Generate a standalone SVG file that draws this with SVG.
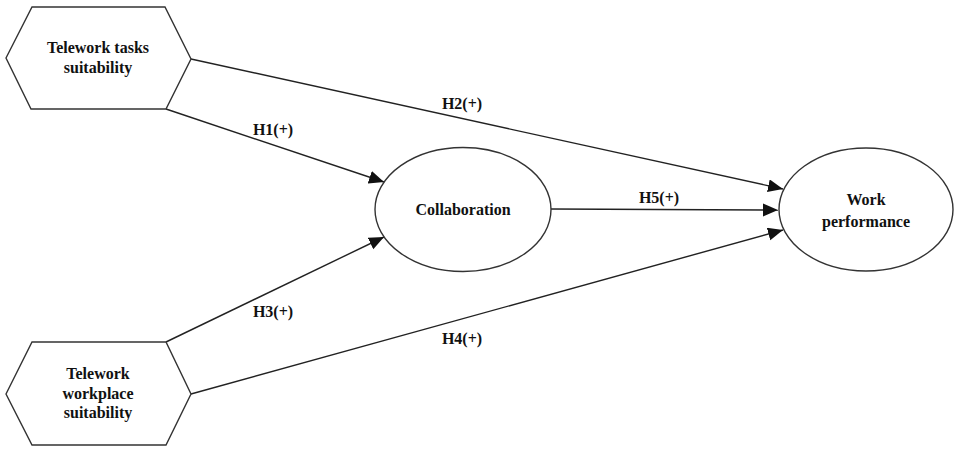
<svg xmlns="http://www.w3.org/2000/svg" width="957" height="454" viewBox="0 0 957 454">
<style>
.shape{fill:#fff;stroke:#333;stroke-width:1.4}
.lbl{font-family:'Liberation Serif','DejaVu Serif',serif;font-weight:bold;font-size:16px;fill:#111;text-anchor:middle}
.edge{stroke:#222;stroke-width:1.4;fill:none}
</style>
<defs>
<marker id="arr" markerUnits="userSpaceOnUse" markerWidth="16" markerHeight="14" refX="15" refY="6.5" orient="auto">
<path d="M0,0 L15,6.5 L0,13 Z" fill="#111"/>
</marker>
</defs>
<rect width="957" height="454" fill="#fff"/>
<g id="connectors">
<line class="edge" x1="166" y1="109" x2="384" y2="182" marker-end="url(#arr)"/>
<line class="edge" x1="191" y1="59" x2="783" y2="189" marker-end="url(#arr)"/>
<line class="edge" x1="166" y1="342" x2="384" y2="237" marker-end="url(#arr)"/>
<line class="edge" x1="191" y1="394" x2="783" y2="230" marker-end="url(#arr)"/>
<line class="edge" x1="551" y1="209" x2="778" y2="210" marker-end="url(#arr)"/>
<text class="lbl" x="273" y="135">H1(+)</text>
<text class="lbl" x="462" y="109">H2(+)</text>
<text class="lbl" x="273" y="317">H3(+)</text>
<text class="lbl" x="462" y="344">H4(+)</text>
<text class="lbl" x="659" y="203">H5(+)</text>
</g>
<g id="tasks">
<polygon class="shape" points="6,58 32,7 165,7 191,59 166,109 31,109"/>
<text class="lbl" x="98" y="53">Telework tasks</text>
<text class="lbl" x="98" y="73">suitability</text>
</g>
<g id="workplace">
<polygon class="shape" points="6,394 32,342 166,342 191,394 166,445 32,445"/>
<text class="lbl" x="98" y="379">Telework</text>
<text class="lbl" x="98" y="399">workplace</text>
<text class="lbl" x="98" y="418">suitability</text>
</g>
<g id="collaboration">
<ellipse class="shape" cx="463" cy="209.5" rx="88" ry="62"/>
<text class="lbl" x="463" y="215">Collaboration</text>
</g>
<g id="performance">
<ellipse class="shape" cx="866" cy="209.5" rx="87" ry="61.5"/>
<text class="lbl" x="866" y="205">Work</text>
<text class="lbl" x="866" y="227">performance</text>
</g>
</svg>
